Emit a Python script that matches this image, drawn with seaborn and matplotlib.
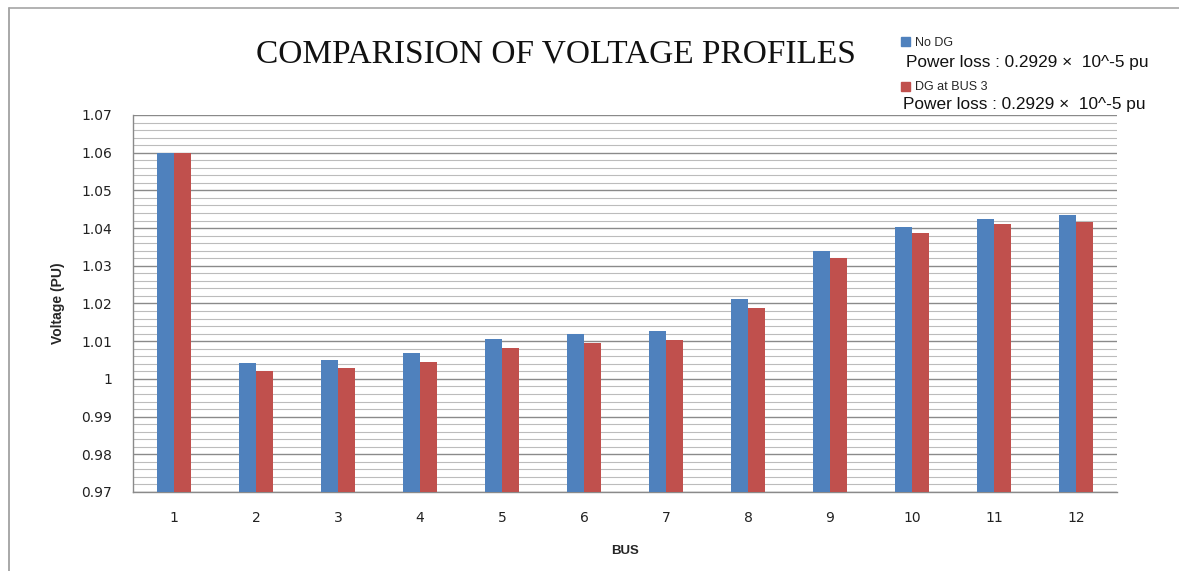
import matplotlib
matplotlib.use("Agg")
import matplotlib.pyplot as plt
from matplotlib.lines import Line2D
from matplotlib.ticker import MultipleLocator
import pandas as pd
import seaborn as sns

BUSES = [str(i) for i in range(1, 13)]
NO_DG = [1.060, 1.0041, 1.0051, 1.0070, 1.0105, 1.0119, 1.0127, 1.0211, 1.0340, 1.0404, 1.0425, 1.0435]
DG_BUS3 = [1.060, 1.0021, 1.0030, 1.0045, 1.0081, 1.0094, 1.0103, 1.0189, 1.0321, 1.0386, 1.0411, 1.0416]
SERIES = ["No DG", "DG at BUS 3"]
COLORS = ["#4F81BD", "#C0504D"]
LOSS_TEXT = "Power loss : 0.2929 \u00d7  10^-5 pu"

df = pd.DataFrame({
    "BUS": BUSES * 2,
    "Voltage": NO_DG + DG_BUS3,
    "Series": [SERIES[0]] * len(BUSES) + [SERIES[1]] * len(BUSES),
})

sns.set_style("white")
plt.rcParams["font.family"] = ["Liberation Sans", "DejaVu Sans"]

fig = plt.figure(figsize=(11.79, 5.71), dpi=100)
ax = fig.add_axes([133 / 1179, 1 - 492 / 571, 984 / 1179, 377 / 571])

sns.barplot(data=df, x="BUS", y="Voltage", hue="Series", palette=COLORS,
            width=0.42, saturation=1, linewidth=0, ax=ax, legend=False, zorder=3)

ax.set_ylim(0.97, 1.07)
ax.yaxis.set_major_locator(MultipleLocator(0.01))
ax.yaxis.set_minor_locator(MultipleLocator(0.002))
ax.set_yticklabels([("%.2f" % v).rstrip("0").rstrip(".") for v in ax.get_yticks()])
ax.grid(which="major", axis="y", color="#8a8a8a", linewidth=1.0, zorder=0)
ax.grid(which="minor", axis="y", color="#bcbcbc", linewidth=0.8, zorder=0)
ax.set_axisbelow(True)

for side in ["top", "right"]:
    ax.spines[side].set_visible(False)
for side in ["left", "bottom"]:
    ax.spines[side].set_color("#8a8a8a")
    ax.spines[side].set_linewidth(1.0)

ax.tick_params(axis="y", which="major", direction="out", length=5, color="#8a8a8a",
               labelsize=10, labelcolor="#222222", pad=10)
ax.tick_params(axis="y", which="minor", length=0)
ax.tick_params(axis="x", length=0, labelsize=10, labelcolor="#222222", pad=14)
for lab in ax.get_xticklabels() + ax.get_yticklabels():
    lab.set_family(["DejaVu Sans"])

ax.set_xlabel("BUS", fontsize=9.5, fontweight="bold", labelpad=14)
ax.set_ylabel("Voltage (PU)", fontsize=10, fontweight="bold", labelpad=12)

fig.text(556 / 1179, 1 - 54 / 571, "COMPARISION OF VOLTAGE PROFILES",
         family=["Liberation Serif", "DejaVu Serif"], fontsize=24,
         ha="center", va="center", color="#111111")

handles = [plt.Rectangle((0, 0), 1, 1, color=c) for c in COLORS]
fig.legend(handles, SERIES, loc="upper left",
           bbox_to_anchor=(901 / 1179, 1 - 37 / 571), frameon=False,
           fontsize=9, handlelength=0.7, handleheight=0.7, handletextpad=0.4,
           labelspacing=2.6, borderpad=0, borderaxespad=0)
fig.text(906 / 1179, 1 - 63 / 571, LOSS_TEXT, fontsize=12.4, va="center", color="#111111")
fig.text(903 / 1179, 1 - 105 / 571, LOSS_TEXT, fontsize=12.4, va="center", color="#111111")

fig.add_artist(Line2D([8.5 / 1179, 8.5 / 1179], [0, 1 - 8 / 571], color="#9a9a9a", linewidth=1.2))
fig.add_artist(Line2D([8.5 / 1179, 1], [1 - 8 / 571, 1 - 8 / 571], color="#a5a5a5", linewidth=1.2))

fig.savefig("out.png", dpi=100)
